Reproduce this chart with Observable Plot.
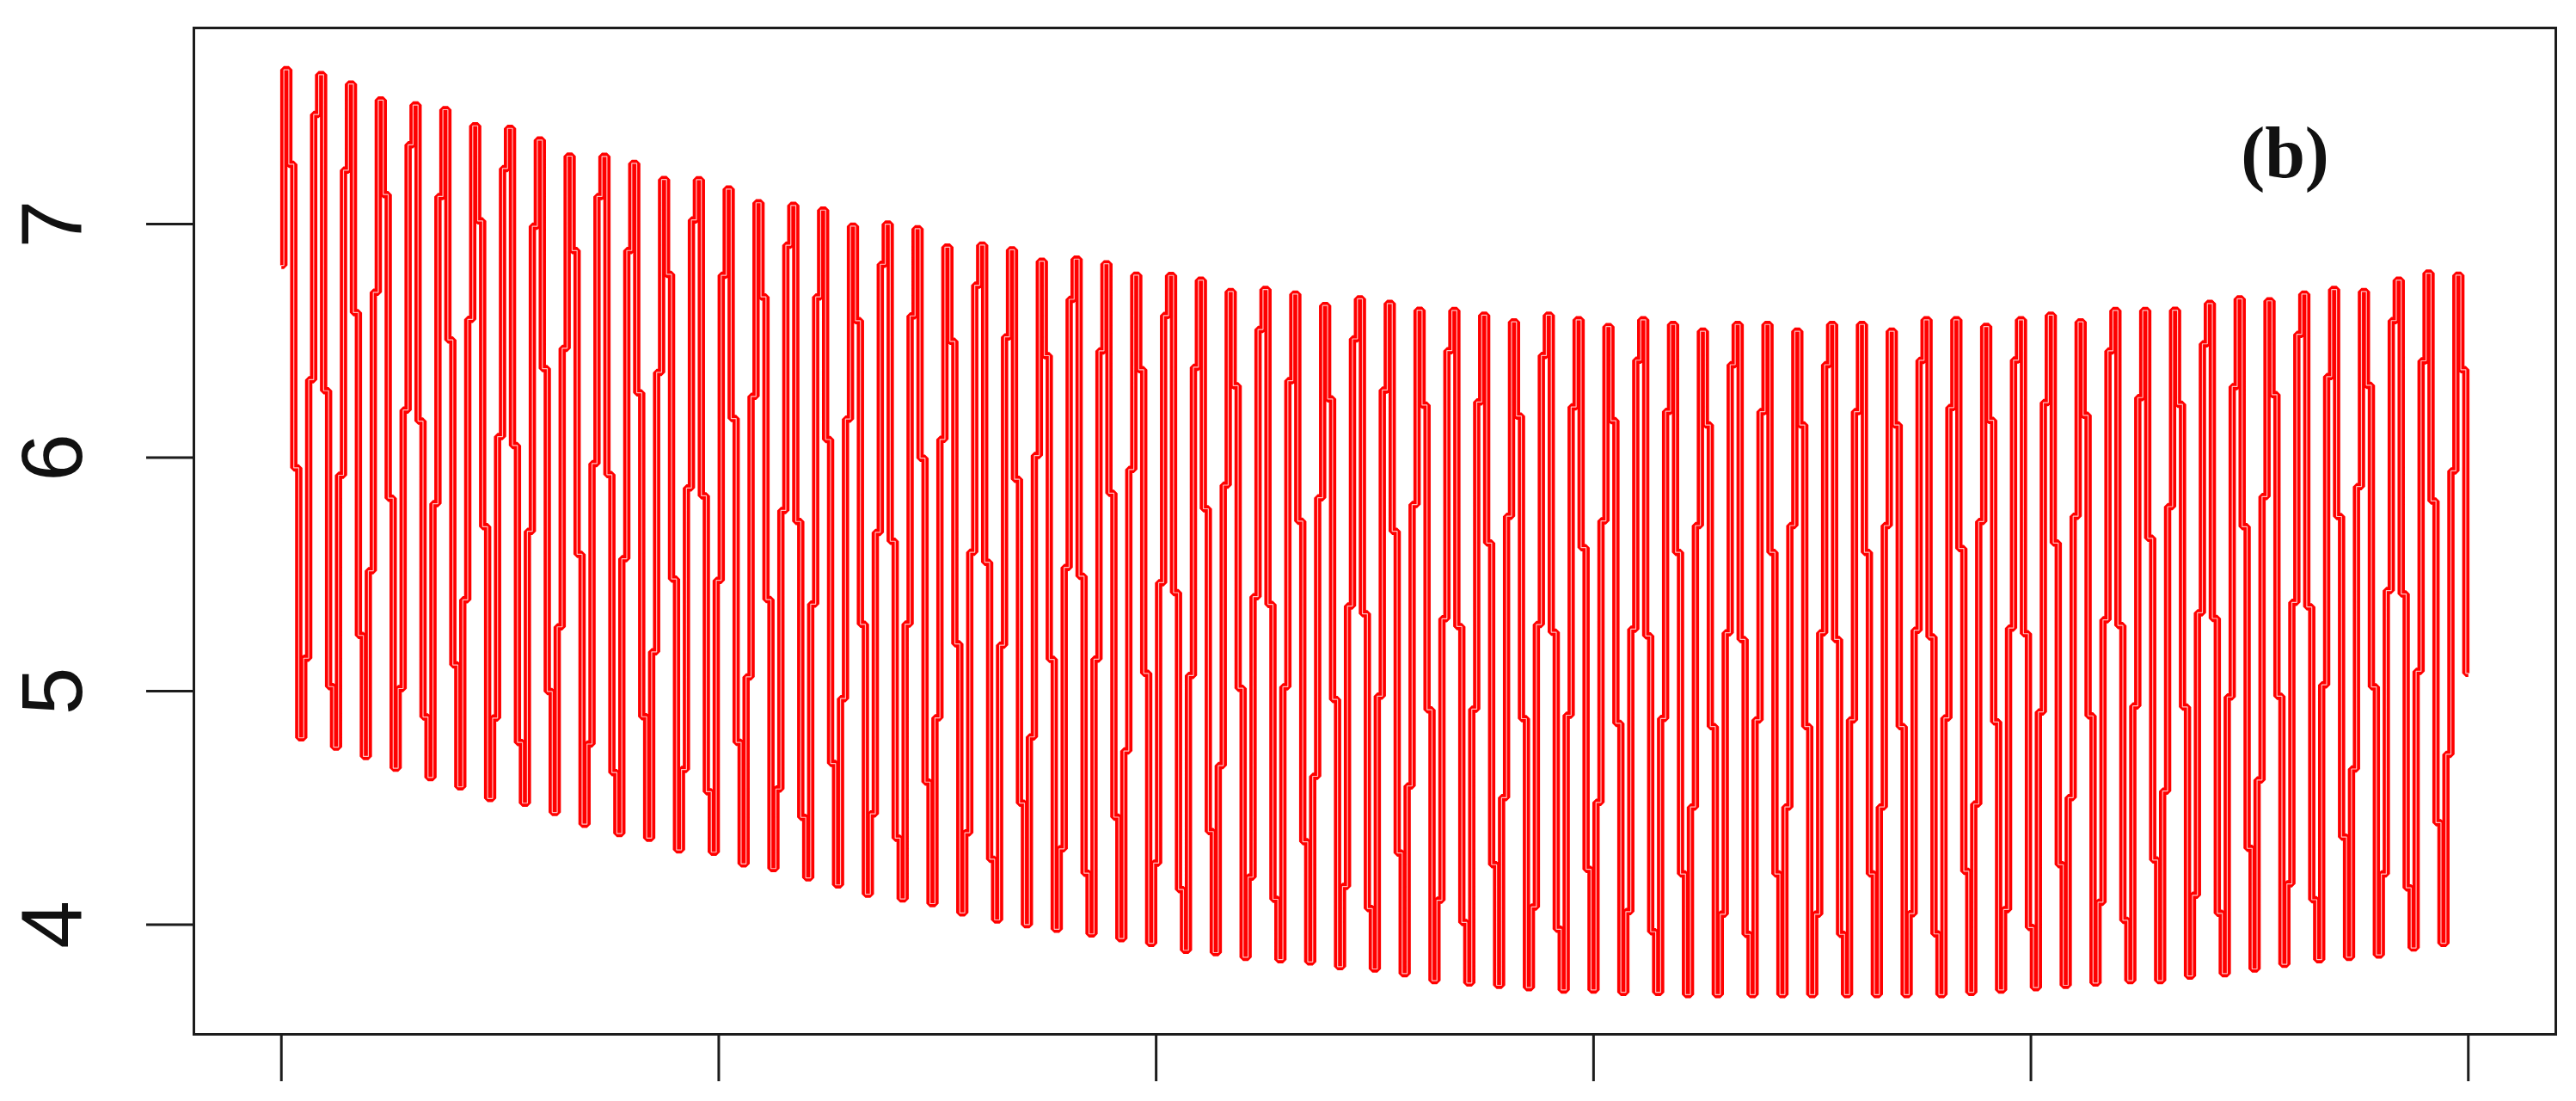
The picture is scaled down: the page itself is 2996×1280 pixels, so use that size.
<!DOCTYPE html>
<html>
<head>
<meta charset="utf-8">
<script src="https://cdn.jsdelivr.net/npm/d3@7"></script>
<script src="https://cdn.jsdelivr.net/npm/@observablehq/plot@0.6"></script>
<style>
  html, body { margin: 0; padding: 0; background: #ffffff; }
  #chart svg { display: block; }
</style>
</head>
<body>
<div id="chart"></div>
<script>
// Upper envelope: value of each peak (one per cycle), read left to right
const upperEnvelope = [
  7.69, 7.64, 7.60, 7.56, 7.51, 7.49, 7.45, 7.41, 7.36, 7.32,
  7.29, 7.26, 7.22, 7.19, 7.15, 7.12, 7.08, 7.06, 7.02, 7.00,
  6.98, 6.93, 6.91, 6.89, 6.87, 6.85, 6.83, 6.81, 6.78, 6.76,
  6.74, 6.72, 6.70, 6.68, 6.68, 6.66, 6.66, 6.63, 6.61, 6.61,
  6.61, 6.59, 6.59, 6.59, 6.57, 6.57, 6.57, 6.57, 6.57, 6.57,
  6.57, 6.57, 6.59, 6.59, 6.59, 6.59, 6.61, 6.61, 6.63, 6.63,
  6.66, 6.66, 6.68, 6.70, 6.70, 6.72, 6.74, 6.76, 6.79, 6.81
];
// Lower envelope: value of each trough (one per cycle), read left to right
const lowerEnvelope = [
  4.80, 4.76, 4.72, 4.67, 4.63, 4.59, 4.54, 4.52, 4.48, 4.43,
  4.39, 4.37, 4.32, 4.31, 4.26, 4.24, 4.20, 4.17, 4.13, 4.11,
  4.09, 4.05, 4.02, 4.00, 3.98, 3.96, 3.94, 3.92, 3.89, 3.88,
  3.86, 3.85, 3.84, 3.82, 3.81, 3.79, 3.76, 3.75, 3.74, 3.73,
  3.72, 3.72, 3.71, 3.71, 3.70, 3.70, 3.70, 3.70, 3.70, 3.70,
  3.70, 3.70, 3.70, 3.71, 3.72, 3.73, 3.74, 3.75, 3.76, 3.76,
  3.78, 3.79, 3.81, 3.83, 3.85, 3.86, 3.87, 3.90, 3.92
];
// Position of successive samples between peak (0) and trough (1), read from the
// first three cycles (19 samples span 3 cycles)
const cycleShape = [
  0.01, 0.15, 0.60, 1.00, 0.88, 0.46, 0.06, 0.00, 0.47, 0.91,
  1.00, 0.59, 0.13, 0.00, 0.34, 0.82, 1.00, 0.72, 0.30
];
const cyclesInShape = 3;
const sampleCount = 441;

const yTicks = [4, 5, 6, 7];
const xTicks = [0, 88, 176, 264, 352, 440];
const panelLabel = "(b)";

// Build the series table from the arrays above
const clampIdx = (k, len) => Math.max(0, Math.min(len - 1, k));
const series = d3.range(sampleCount).map(i => {
  const c = (i - 1) * cyclesInShape / cycleShape.length;
  const U = upperEnvelope[clampIdx(Math.round(c), upperEnvelope.length)];
  const L = lowerEnvelope[clampIdx(Math.floor(c), lowerEnvelope.length)];
  const n = cycleShape.length;
  const f = cycleShape[(((i - 1) % n) + n) % n];
  return {i, v: U - f * (U - L)};
});

const last = sampleCount - 1;
const ink = "#1c1c1c";

const chart = Plot.plot({
  width: 2996,
  height: 1280,
  marginLeft: 225,
  marginRight: 24,
  marginTop: 32,
  marginBottom: 78,
  x: {domain: [-0.04 * last, 1.04 * last]},
  y: {domain: [3.53, 7.84]},
  style: {background: "#ffffff"},
  marks: [
    Plot.line(series, {x: "i", y: "v", stroke: "#ff0000", strokeWidth: 8.5, curve: "step", strokeLinejoin: "miter", strokeLinecap: "butt"}),
    Plot.line(series, {x: "i", y: "v", stroke: "#ffd6d6", strokeWidth: 1.2, curve: "step", strokeLinejoin: "miter", strokeOpacity: 0.9}),
    Plot.frame({stroke: ink, strokeWidth: 3}),
    Plot.axisX({ticks: xTicks, tickSize: 55, tickFormat: () => "", stroke: ink, strokeWidth: 3, label: null}),
    Plot.axisY({ticks: yTicks, tickSize: 55, tickFormat: () => "", stroke: ink, strokeWidth: 3, label: null}),
    Plot.text(yTicks, {
      y: d => d, text: d => String(d), frameAnchor: "left", dx: -163,
      rotate: -90, fontSize: 100, fontFamily: "Liberation Sans", fill: "#111111",
      textAnchor: "middle", lineAnchor: "middle"
    }),
    Plot.text([panelLabel], {
      text: d => d, frameAnchor: "top-right", dx: -315, dy: 147,
      fontSize: 84, fontWeight: "bold", fontFamily: "Liberation Serif", fill: "#111111",
      textAnchor: "middle", lineAnchor: "middle"
    })
  ]
});
document.getElementById("chart").appendChild(chart);
</script>
</body>
</html>
